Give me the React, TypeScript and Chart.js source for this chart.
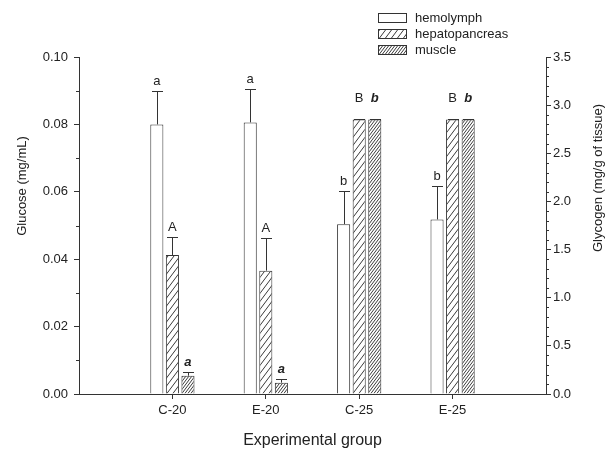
import React, { useEffect, useRef } from 'react';
import { Chart, registerables } from 'chart.js';

Chart.register(...registerables);

const categories = ['', 'C-20', 'E-20', 'C-25', 'E-25', ''];
const seriesNames = ['hemolymph', 'hepatopancreas', 'muscle'];
const hemolymph = [null, 0.08, 0.0806, 0.0504, 0.0518, null];
const hemolymphErr = [null, 0.01, 0.01, 0.0099, 0.01, null];
const hepatopancreas = [null, 1.444, 1.281, 2.85, 2.85, null];
const hepatopancreasErr = [null, 0.183, 0.336, 0.004, 0.004, null];
const muscle = [null, 0.19, 0.118, 2.85, 2.85, null];
const muscleErr = [null, 0.035, 0.038, 0.004, 0.004, null];
const hemolymphLetters = ['', 'a', 'a', 'b', 'b', ''];
const hepatopancreasLetters = ['', 'A', 'A', 'B', 'B', ''];
const muscleLetters = ['', 'a', 'a', 'b', 'b', ''];
const glucoseTickLabels = ['0.00', '0.02', '0.04', '0.06', '0.08', '0.10'];
const glycogenTickLabels = ['0.0', '0.5', '1.0', '1.5', '2.0', '2.5', '3.0', '3.5'];

const FONT = '"Liberation Sans", Arial, Helvetica, sans-serif';
const INK = '#333333';
const TEXT = '#222222';

function makePattern(w: number, h: number): CanvasPattern | string {
  const c = document.createElement('canvas');
  c.width = w;
  c.height = h;
  const g = c.getContext('2d');
  if (!g) return '#ffffff';
  g.fillStyle = '#ffffff';
  g.fillRect(0, 0, w, h);
  g.strokeStyle = '#3a3a3a';
  g.lineWidth = 1;
  const offs = [[0, 0], [w, 0], [-w, 0], [0, h], [0, -h]];
  for (const [dx, dy] of offs) {
    g.beginPath();
    g.moveTo(0 + dx, h + dy);
    g.lineTo(w + dx, 0 + dy);
    g.stroke();
  }
  const p = g.createPattern(c, 'repeat');
  return p || '#ffffff';
}

const errors = [hemolymphErr, hepatopancreasErr, muscleErr];
const letters = [hemolymphLetters, hepatopancreasLetters, muscleLetters];

const decorPlugin = {
  id: 'decor',
  afterDatasetsDraw(chart: any) {
    const ctx: CanvasRenderingContext2D = chart.ctx;
    ctx.save();
    chart.data.datasets.forEach((ds: any, di: number) => {
      const meta = chart.getDatasetMeta(di);
      const scale = chart.scales[ds.yAxisID];
      meta.data.forEach((el: any, i: number) => {
        const v = ds.data[i];
        if (v === null || v === undefined) return;
        const e = errors[di][i] || 0;
        const x = el.x;
        const yTop = scale.getPixelForValue(v);
        const yErr = scale.getPixelForValue(v + e);
        ctx.strokeStyle = INK;
        ctx.lineWidth = 1;
        ctx.beginPath();
        ctx.moveTo(Math.round(x) + 0.5, yTop);
        ctx.lineTo(Math.round(x) + 0.5, Math.round(yErr) + 0.5);
        ctx.moveTo(Math.round(x) - 5, Math.round(yErr) + 0.5);
        ctx.lineTo(Math.round(x) + 6, Math.round(yErr) + 0.5);
        ctx.stroke();
        const lt = letters[di][i];
        if (lt) {
          const gap = yTop - yErr < 3 ? 17 : 6;
          ctx.fillStyle = TEXT;
          ctx.font = di === 2 ? `italic bold 13px ${FONT}` : `13px ${FONT}`;
          ctx.textAlign = 'center';
          ctx.textBaseline = 'alphabetic';
          ctx.fillText(lt, x, yErr - gap);
        }
      });
    });
    const ca = chart.chartArea;
    const yl = chart.scales.yLeft;
    const yr = chart.scales.yRight;
    ctx.strokeStyle = INK;
    ctx.lineWidth = 1;
    ctx.beginPath();
    for (let k = 1; k < 10; k += 2) {
      const y = Math.round(yl.getPixelForValue(k * 0.01)) + 0.5;
      ctx.moveTo(ca.left - 3, y);
      ctx.lineTo(ca.left, y);
    }
    for (let k = 1; k < 35; k++) {
      if (k % 5 === 0) continue;
      const y = Math.round(yr.getPixelForValue(k * 0.1)) + 0.5;
      ctx.moveTo(ca.right, y);
      ctx.lineTo(ca.right + 3, y);
    }
    ctx.stroke();
    ctx.fillStyle = TEXT;
    ctx.textAlign = 'center';
    ctx.textBaseline = 'middle';
    ctx.font = `13px ${FONT}`;
    ctx.save();
    ctx.translate(22, 186);
    ctx.rotate(-Math.PI / 2);
    ctx.fillText('Glucose (mg/mL)', 0, 0);
    ctx.restore();
    ctx.save();
    ctx.translate(598, 178);
    ctx.rotate(-Math.PI / 2);
    ctx.fillText('Glycogen (mg/g of tissue)', 0, 0);
    ctx.restore();
    ctx.font = `16px ${FONT}`;
    ctx.fillText('Experimental group', (ca.left + ca.right) / 2, 441);
    const rows = [18, 34, 50];
    chart.data.datasets.forEach((ds: any, di: number) => {
      const yc = rows[di];
      ctx.fillStyle = ds.backgroundColor;
      ctx.fillRect(378, yc - 5, 28, 10);
      ctx.strokeStyle = INK;
      ctx.lineWidth = 1;
      ctx.strokeRect(378.5, yc - 4.5, 28, 9);
      ctx.fillStyle = TEXT;
      ctx.font = `13px ${FONT}`;
      ctx.textAlign = 'left';
      ctx.textBaseline = 'middle';
      ctx.fillText(seriesNames[di], 415, yc);
    });
    ctx.restore();
  },
};

export default function App() {
  const ref = useRef<HTMLCanvasElement>(null);
  useEffect(() => {
    if (!ref.current) return;
    const hepPattern = makePattern(6, 8);
    const musPattern = makePattern(3, 4);
    const chart = new Chart(ref.current, {
      type: 'bar',
      data: {
        labels: categories,
        datasets: [
          {
            label: seriesNames[0],
            data: hemolymph,
            yAxisID: 'yLeft',
            backgroundColor: '#ffffff',
            borderColor: INK,
            borderWidth: 1,
          },
          {
            label: seriesNames[1],
            data: hepatopancreas,
            yAxisID: 'yRight',
            backgroundColor: hepPattern as any,
            borderColor: INK,
            borderWidth: 1,
          },
          {
            label: seriesNames[2],
            data: muscle,
            yAxisID: 'yRight',
            backgroundColor: musPattern as any,
            borderColor: INK,
            borderWidth: 1,
          },
        ],
      },
      options: {
        animation: false,
        responsive: false,
        devicePixelRatio: 1,
        layout: { padding: { left: 0, right: 0, top: 57, bottom: 0 } },
        datasets: {
          bar: { categoryPercentage: 0.5, barPercentage: 0.84, borderSkipped: 'start' },
        },
        plugins: { legend: { display: false }, tooltip: { enabled: false } },
        scales: {
          x: {
            type: 'category',
            offset: false,
            grid: {
              offset: false,
              drawOnChartArea: false,
              tickLength: 5,
              tickColor: (c: any) => (c.index === 0 || c.index === categories.length - 1 ? 'rgba(0,0,0,0)' : INK),
            },
            border: { display: true, color: INK, width: 1 },
            ticks: {
              autoSkip: false,
              maxRotation: 0,
              padding: 4,
              color: TEXT,
              font: { family: FONT, size: 13 },
            },
            afterFit: (s: any) => {
              s.height = 56;
            },
          },
          yLeft: {
            type: 'linear',
            position: 'left',
            min: 0,
            max: 0.1,
            grid: { drawOnChartArea: false, tickLength: 5, tickColor: INK },
            border: { display: true, color: INK, width: 1 },
            ticks: {
              stepSize: 0.02,
              padding: 6,
              color: TEXT,
              font: { family: FONT, size: 13 },
              callback: (v: any, i: number) => glucoseTickLabels[i] ?? Number(v).toFixed(2),
            },
            afterFit: (s: any) => {
              s.width = 79;
            },
          },
          yRight: {
            type: 'linear',
            position: 'right',
            min: 0,
            max: 3.5,
            grid: { drawOnChartArea: false, tickLength: 5, tickColor: INK },
            border: { display: true, color: INK, width: 1 },
            ticks: {
              stepSize: 0.5,
              padding: 2,
              color: TEXT,
              font: { family: FONT, size: 13 },
              callback: (v: any, i: number) => glycogenTickLabels[i] ?? Number(v).toFixed(1),
            },
            afterFit: (s: any) => {
              s.width = 70;
            },
          },
        },
      },
      plugins: [decorPlugin],
    } as any);
    return () => chart.destroy();
  }, []);
  return (
    <div style={{ position: 'fixed', left: 0, top: 0, width: 616, height: 450, background: '#fff' }}>
      <canvas ref={ref} width={616} height={450} style={{ display: 'block' }} />
    </div>
  );
}
